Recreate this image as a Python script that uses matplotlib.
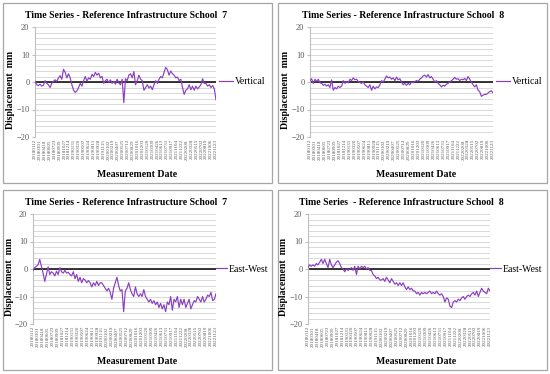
import matplotlib
matplotlib.use("Agg")
import matplotlib.pyplot as plt
import numpy as np
from matplotlib.patches import Rectangle

plt.rcParams['font.family'] = ['Liberation Serif', 'DejaVu Serif']

W, H = 550, 374

# measurement dates shown on the category axis
dates = ['20180112', '20180301', '20180418', '20180605', '20180723', '20180909',
         '20181027', '20181214', '20190131', '20190320', '20190507', '20190624',
         '20190811', '20190928', '20191115', '20200102', '20200219', '20200407',
         '20200525', '20200712', '20200829', '20201016', '20201203', '20210120',
         '20210309', '20210426', '20210613', '20210731', '20210917', '20211104',
         '20211222', '20220208', '20220328', '20220515', '20220702', '20220819',
         '20221006', '20221123']

# displacement (mm)
vert_s7 = [0.3, -1.0, -1.3, -0.8, -1.5, -1.2, 0.5, -0.5, -1.0, -2.0, -0.5, 0.2, 0.8, 0.2,
           1.5, 2.3, 1.0, 4.6, 3.5, 1.5, 3.0, 1.5, -1.0, -3.0, -3.8, -3.2, -2.0, -0.5,
           -1.5, 0.5, 2.0, 0.3, 1.5, 1.0, 2.8, 2.0, 3.5, 2.5, 3.2, 1.5, 2.0, -0.5, 0.5,
           1.0, -0.3, 0.8, -0.5, 0.2, -0.8, 1.0, -0.3, -1.0, 1.0, -7.5, 1.2, 0.5, 2.5,
           3.0, 1.5, 3.8, -1.0, 0.5, 2.5, 1.0, 0.5, -3.0, -2.0, -1.0, -2.2, -1.5, -2.8,
           -1.0, 0.5, -0.5, 1.0, 2.0, 1.5, 3.5, 5.3, 4.5, 2.5, 4.0, 3.0, 2.5, 1.5, 1.8,
           0.5, 1.0, -2.0, -4.5, -3.0, -2.5, -1.0, -2.8, -1.5, -3.0, -1.5, -2.5, -1.8,
           -1.0, 1.2, -0.5, -0.5, -1.5, -1.0, -2.0, -1.3, -2.5, -6.5]

vert_s8 = [0.5, 1.2, -0.5, 1.0, 0.2, 1.0, -0.3, -0.5, -1.2, -0.8, -1.5, -1.0, -2.0, 0.8,
           -3.0, -2.0, -2.5, -1.5, -2.0, -1.5, 0.5, -0.5, 0.2, -0.3, 1.0, 0.5, 1.5, 0.8,
           1.0, 0.2, -0.2, -0.5, 0.0, -1.0, -1.5, -2.0, -1.0, -3.0, -1.5, -2.5, -1.8,
           -2.0, -1.0, 0.5, 0.0, 1.0, 2.2, 1.5, 1.8, 1.0, 1.5, 0.5, 1.8, 0.8, 1.2, 0.0,
           -1.0, -0.5, -1.2, -0.5, -1.0, 0.0, -0.3, 0.2, 0.5, 0.3, 1.0, 1.5, 2.2, 2.5,
           1.8, 2.7, 1.5, 2.0, 1.0, 0.0, 0.5, -0.5, -1.0, -1.8, -1.2, -1.5, -0.8, -0.5,
           0.0, 0.5, 1.0, 1.7, 1.0, 1.2, 0.5, 1.0, 0.8, 1.3, 0.5, 2.0, 1.0, 0.0, -1.0,
           -1.8, -1.0, -3.0, -3.5, -5.2, -4.8, -4.5, -4.5, -4.0, -3.5, -3.2, -4.0]

ew_s7 = [-0.5, 0.5, 1.0, 1.5, 3.5, 1.0, -1.5, -4.5, -2.0, 0.8, -2.0, -1.0, -1.5, -2.5,
         -0.8, -2.0, 0.5, -1.0, -1.5, -0.5, -1.5, -1.2, -2.0, -2.5, -1.0, -3.5, -2.0,
         -4.5, -3.0, -5.0, -3.5, -4.0, -5.0, -4.2, -5.0, -6.5, -5.0, -6.0, -4.5, -6.0,
         -5.0, -5.0, -6.0, -7.0, -8.0, -7.0, -8.5, -11.0, -7.0, -5.0, -3.0, -6.0, -8.0,
         -7.5, -15.5, -8.0, -7.0, -5.0, -7.5, -9.0, -10.0, -6.5, -9.0, -10.0, -9.0,
         -10.0, -7.5, -10.0, -11.0, -12.0, -11.0, -12.5, -11.5, -13.0, -12.0, -14.0,
         -12.5, -14.5, -13.0, -15.5, -12.0, -13.0, -10.0, -15.0, -11.0, -12.0, -10.0,
         -14.0, -11.0, -13.0, -11.0, -14.0, -12.5, -11.0, -14.5, -13.0, -11.5, -12.0,
         -10.0, -11.0, -12.0, -10.0, -12.0, -11.0, -9.5, -10.0, -8.5, -11.5, -11.0, -9.0]

ew_s8 = [0.5, 1.5, 1.0, 1.5, 1.0, 2.0, 1.5, 2.5, 3.5, 2.0, 3.5, 2.0, 0.5, 3.5, 1.5, 0.5,
         1.5, 2.5, 3.0, 2.0, 0.5, 0.0, -1.0, 0.0, -0.5, 0.0, 0.5, -0.5, 1.0, -2.0, 1.0,
         0.0, 1.0, 0.5, 1.0, 0.0, 0.5, -0.5, -0.5, -2.0, -2.5, -3.5, -3.0, -4.0, -4.0,
         -3.5, -4.5, -3.0, -4.0, -5.0, -3.5, -4.5, -5.5, -5.0, -6.0, -5.0, -6.0, -5.0,
         -6.5, -7.5, -6.5, -7.5, -7.0, -8.0, -8.0, -9.0, -8.5, -9.5, -8.5, -9.0, -8.5,
         -9.0, -8.5, -8.0, -9.0, -8.5, -9.0, -8.0, -9.0, -9.5, -9.0, -10.0, -12.0, -10.5,
         -11.0, -13.5, -14.0, -12.0, -11.5, -12.0, -11.0, -11.5, -10.5, -10.0, -11.0,
         -10.0, -9.5, -10.0, -9.0, -8.5, -9.5, -8.0, -10.0, -8.5, -7.0, -8.0, -8.5, -9.0,
         -7.0, -8.0]

purple = '#8B3FBF'
grey_txt = '#595959'


def fx(px):
    return px / W


def fy(py):
    return 1 - py / H


fig = plt.figure(figsize=(W / 100, H / 100), dpi=100)

# panel: (box, axes box, series, legend label, title, title x, ylabel x, xlabel x)
panels = [
    ((3, 3, 272, 183), (35, 27, 216, 137), vert_s7, 'Vertical',
     'Time Series - Reference Infrastructure School  7', 126, 11, 137),
    ((278, 3, 547, 183), (310, 27, 493, 137), vert_s8, 'Vertical',
     'Time Series - Reference Infrastructure School  8', 403, 285, 416),
    ((3, 190, 272, 370), (33, 214, 216, 324), ew_s7, 'East-West',
     'Time Series - Reference Infrastructure School  7', 126, 10, 137),
    ((278, 190, 547, 370), (308, 214, 490, 324), ew_s8, 'East-West',
     'Time Series  - Reference Infrastructure School  8', 401, 284, 416),
]

for box, ab, series, lab, title, tx, yx, xx in panels:
    fig.patches.append(Rectangle((fx(box[0]), fy(box[3])), fx(box[2] - box[0]),
                                 (box[3] - box[1]) / H, transform=fig.transFigure,
                                 fill=False, edgecolor='#A6A6A6', lw=0.9))
    ax = fig.add_axes([fx(ab[0]), fy(ab[3]), fx(ab[2] - ab[0]), (ab[3] - ab[1]) / H])
    n = len(series)
    x = np.arange(n)
    ax.plot(x, series, color=purple, lw=0.85, label=lab, zorder=3)
    ax.axhline(0, color='black', lw=1.1, zorder=2)
    ax.set_xlim(0, n - 1)
    ax.set_ylim(-20, 20)
    ax.set_yticks([-20, -10, 0, 10, 20])
    ax.set_yticklabels(['\u221220', '\u221210', '0', '10', '20'])
    ax.set_yticks(np.arange(-20, 21, 2), minor=True)
    ax.grid(True, which='both', axis='y', color='#D9D9D9', lw=0.7, zorder=0)
    ax.set_axisbelow(True)
    ax.set_xticks(np.linspace(0, n - 1, len(dates)))
    ax.set_xticklabels(dates, rotation=90, fontsize=3.6, color=grey_txt)
    ax.tick_params(axis='x', length=0, pad=1.5)
    ax.tick_params(axis='y', which='major', length=2.5, color='#BFBFBF',
                   labelsize=6, labelcolor=grey_txt, pad=1.5)
    ax.tick_params(axis='y', which='minor', length=0)
    for s in ['top', 'right', 'bottom']:
        ax.spines[s].set_visible(False)
    ax.spines['left'].set_color('#BFBFBF')
    ax.spines['left'].set_linewidth(0.8)
    wide = lab == 'East-West'
    ax.legend(loc='center left', bbox_to_anchor=(1.0, 0.5), frameon=False,
              fontsize=7, handlelength=1.1 if wide else 1.4, handletextpad=0.25,
              borderpad=0, borderaxespad=0.0 if wide else 0.3)
    fig.text(fx(tx), fy(box[1] + 12), title, ha='center', va='center',
             fontsize=7, fontweight='bold')
    fig.text(fx(yx), fy((ab[1] + ab[3]) / 2 + 8), 'Displacement  mm', rotation=90,
             ha='center', va='center', fontsize=7, fontweight='bold')
    fig.text(fx(xx), fy(box[3] - 9), 'Measurement Date', ha='center', va='center',
             fontsize=7, fontweight='bold')

fig.savefig('out.png', dpi=100)
